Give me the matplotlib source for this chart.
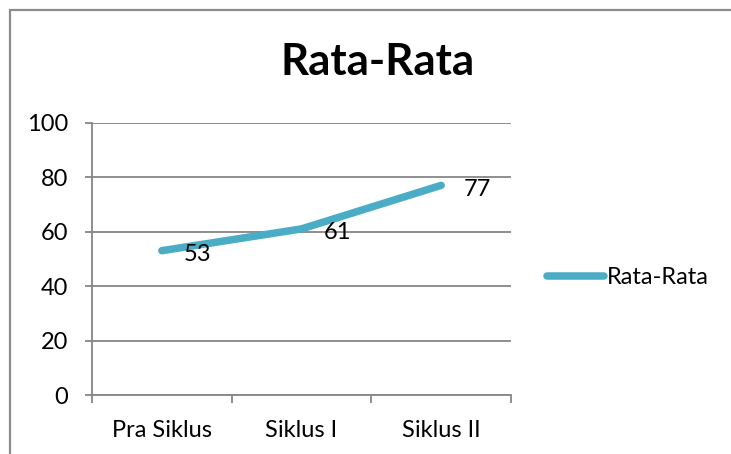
import matplotlib
matplotlib.use("Agg")
import matplotlib.pyplot as plt
from matplotlib.patches import Rectangle

categories = ["Pra Siklus", "Siklus I", "Siklus II"]
values = [53, 61, 77]
series_name = "Rata-Rata"
title = "Rata-Rata"
y_ticks = [0, 20, 40, 60, 80, 100]

FONT = "Lato"
plt.rcParams["font.family"] = [FONT, "DejaVu Sans"]

W, H = 731, 454
fig = plt.figure(figsize=(W / 100, H / 100), dpi=100)
fig.patch.set_facecolor("white")

# chart frame (partly outside the image, as in the reference)
fig.add_artist(Rectangle((9.5 / W, -0.2), 1.2, (H - 10.5) / H + 0.2,
                         transform=fig.transFigure, fill=False,
                         edgecolor="#8c8c8c", lw=1.6, clip_on=False))

left, right = 92 / W, 511 / W
bottom, top = (H - 395) / H, (H - 122.7) / H
ax = fig.add_axes([left, bottom, right - left, top - bottom])

grid_c = "#868686"
x = list(range(len(categories)))
line_c = "#4BACC6"
ax.plot(x, values, color=line_c, lw=5.4, solid_capstyle="round",
        solid_joinstyle="round", label=series_name, zorder=3)

for xi, v in zip(x, values):
    ax.annotate(str(v), (xi, v), xytext=(16, -1.5), textcoords="offset points",
                ha="left", va="center_baseline", fontsize=17, color="black", zorder=4)

ax.set_xlim(-0.5, len(categories) - 0.5)
ax.set_ylim(0, 100)
ax.set_yticks(y_ticks)
ax.set_yticklabels([str(t) for t in y_ticks])
ax.set_xticks(x)
ax.set_xticklabels(categories)
ax.set_xticks([i - 0.5 for i in range(len(categories) + 1)], minor=True)

ax.yaxis.grid(True, color=grid_c, lw=1.3)
ax.set_axisbelow(True)
for s in ["top", "right"]:
    ax.spines[s].set_visible(False)
for s in ["left", "bottom"]:
    ax.spines[s].set_color(grid_c)
    ax.spines[s].set_linewidth(1.3)

ax.tick_params(axis="y", length=5, width=1.3, color=grid_c, pad=12,
               labelsize=17, labelcolor="black")
ax.tick_params(axis="x", which="major", length=0, pad=18,
               labelsize=17, labelcolor="black")
ax.tick_params(axis="x", which="minor", length=6, width=1.3, color=grid_c)

fig.text(378 / W, 1 - 62 / H, title, ha="center", va="center",
         fontsize=31.5, fontweight="bold", color="black")

leg = ax.legend(loc="center left", bbox_to_anchor=(547 / W, 1 - 278 / H),
                bbox_transform=fig.transFigure, frameon=False, fontsize=17,
                handlelength=2.4, handletextpad=0.15, borderpad=0, borderaxespad=0)
for t in leg.get_texts():
    t.set_color("black")

fig.savefig("out.png", dpi=100, facecolor="white")
